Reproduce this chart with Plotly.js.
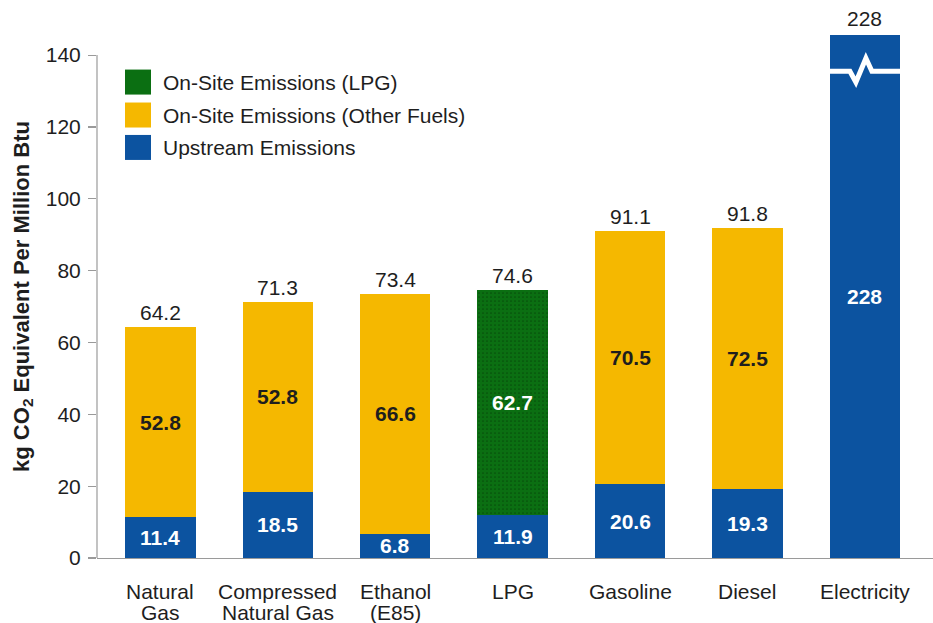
<!DOCTYPE html>
<html>
<head>
<meta charset="utf-8">
<script src="https://cdn.plot.ly/plotly-3.0.1.min.js"></script>
<style>html,body{margin:0;padding:0;background:#fff;}#chart{width:933px;height:623px;}</style>
</head>
<body>
<div id="chart"></div>
<script>
// ---- data ----
const categories = ["Natural Gas", "Compressed Natural Gas", "Ethanol (E85)", "LPG", "Gasoline", "Diesel", "Electricity"];
const labelLine1 = ["Natural", "Compressed", "Ethanol", "LPG", "Gasoline", "Diesel", "Electricity"];
const labelLine2 = ["Gas", "Natural Gas", "(E85)", "", "", "", ""];
const upstream = [11.4, 18.5, 6.8, 11.9, 20.6, 19.3, 228];
const onsiteOther = [52.8, 52.8, 66.6, null, 70.5, 72.5, null];
const onsiteLPG = [null, null, null, 62.7, null, null, null];
const totals = [64.2, 71.3, 73.4, 74.6, 91.1, 91.8, 228];
const yTickVals = [0, 20, 40, 60, 80, 100, 120, 140];
const seriesNames = ["On-Site Emissions (LPG)", "On-Site Emissions (Other Fuels)", "Upstream Emissions"];
const yTitle = "kg CO<sub>2</sub> Equivalent Per Million Btu";

// ---- style ----
const FONT = "Liberation Sans, Arial, sans-serif";
const BLUE = "#0C53A0", YELLOW = "#F5B800", GREEN = "#0B6F12";
const seriesColors = [GREEN, YELLOW, BLUE];
const TXT = "#1e1e1e", AXIS = "#9a9a9a";
const yMax = 145.6;       // axis top; taller bars are cut here
const breakAt = 135.5;    // where the cut mark is drawn

const traces = [
  {type: "bar", name: seriesNames[2], x: categories, y: upstream, marker: {color: BLUE}, width: 0.6, showlegend: false, hoverinfo: "x+y"},
  {type: "bar", name: seriesNames[1], x: categories, y: onsiteOther, marker: {color: YELLOW}, width: 0.6, showlegend: false, hoverinfo: "x+y"},
  {type: "bar", name: seriesNames[0], x: categories, y: onsiteLPG, width: 0.6, showlegend: false, hoverinfo: "x+y",
   marker: {color: GREEN, pattern: {shape: ".", fgcolor: "#064f0a", bgcolor: GREEN, size: 4, solidity: 0.15}}}
];

const annotations = [];
const shapes = [];
categories.forEach((c, i) => {
  const up = upstream[i];
  const upVis = Math.min(up, yMax);
  annotations.push({x: c, y: upVis / 2, xref: "x", yref: "y", text: String(up), showarrow: false,
    font: {family: FONT, size: 21, color: "#ffffff", weight: "bold"}, yanchor: "middle"});
  if (onsiteOther[i] != null) {
    annotations.push({x: c, y: up + onsiteOther[i] / 2, xref: "x", yref: "y", text: String(onsiteOther[i]), showarrow: false,
      font: {family: FONT, size: 21, color: TXT, weight: "bold"}, yanchor: "middle"});
  }
  if (onsiteLPG[i] != null) {
    annotations.push({x: c, y: up + onsiteLPG[i] / 2, xref: "x", yref: "y", text: String(onsiteLPG[i]), showarrow: false,
      font: {family: FONT, size: 21, color: "#ffffff", weight: "bold"}, yanchor: "middle"});
  }
  const top = up + (onsiteOther[i] || 0) + (onsiteLPG[i] || 0);
  annotations.push({x: c, y: Math.min(top, yMax), xref: "x", yref: "y", text: String(totals[i]), showarrow: false,
    font: {family: FONT, size: 21, color: TXT}, yanchor: "bottom", yshift: top > yMax ? 3 : 1});
  // category labels
  annotations.push({x: c, y: 0, xref: "x", yref: "paper", text: labelLine1[i], showarrow: false,
    font: {family: FONT, size: 21, color: TXT}, yanchor: "middle", yshift: -33});
  if (labelLine2[i]) {
    annotations.push({x: c, y: 0, xref: "x", yref: "paper", text: labelLine2[i], showarrow: false,
      font: {family: FONT, size: 21, color: TXT}, yanchor: "middle", yshift: -54});
  }
  // cut mark for bars taller than the axis
  if (top > yMax) {
    shapes.push({type: "path", xref: "x", yref: "y", xsizemode: "pixel", ysizemode: "pixel",
      xanchor: c, yanchor: breakAt, layer: "above",
      path: "M-36,0 L-15,0 L-9,-11 L1,13 L7,0 L36,0",
      line: {color: "#ffffff", width: 5}});
  }
});

// y axis line (only up to the last tick)
shapes.push({type: "line", xref: "paper", yref: "y", x0: 0, x1: 0, y0: 0, y1: yTickVals[yTickVals.length - 1],
  line: {color: AXIS, width: 1.2}, layer: "above"});

// custom legend
const lgX0 = 0.0335, lgX1 = 0.0646, lgTextX = 0.077;
const lgY = [0.910, 0.847, 0.785], lgHalf = 0.0239;
seriesNames.forEach((n, k) => {
  shapes.push({type: "rect", xref: "paper", yref: "paper", x0: lgX0, x1: lgX1, y0: lgY[k] - lgHalf, y1: lgY[k] + lgHalf,
    fillcolor: seriesColors[k], line: {width: 0}});
  annotations.push({x: lgTextX, y: lgY[k], xref: "paper", yref: "paper", text: n, showarrow: false,
    xanchor: "left", yanchor: "middle", font: {family: FONT, size: 21, color: TXT}});
});

const layout = {
  width: 933, height: 623,
  margin: {l: 97, r: 0, t: 35, b: 65},
  paper_bgcolor: "#ffffff", plot_bgcolor: "#ffffff",
  barmode: "stack",
  showlegend: false,
  font: {family: FONT, color: TXT},
  xaxis: {type: "category", range: [-0.54, 6.58], showline: true, linecolor: AXIS, linewidth: 1.2,
    showgrid: false, zeroline: false, ticks: "", showticklabels: false, fixedrange: true},
  yaxis: {range: [0, yMax], tickmode: "array", tickvals: yTickVals, ticks: "outside", ticklen: 8, tickcolor: AXIS,
    tickwidth: 1.2, showgrid: false, zeroline: false, showline: false, ticklabelstandoff: 3,
    tickfont: {family: FONT, size: 21, color: TXT}, fixedrange: true,
    title: {text: yTitle, font: {family: FONT, size: 22, color: TXT, weight: "bold"}, standoff: 10}},
  annotations: annotations,
  shapes: shapes
};

Plotly.newPlot("chart", traces, layout, {displayModeBar: false, staticPlot: true});
</script>
</body>
</html>
